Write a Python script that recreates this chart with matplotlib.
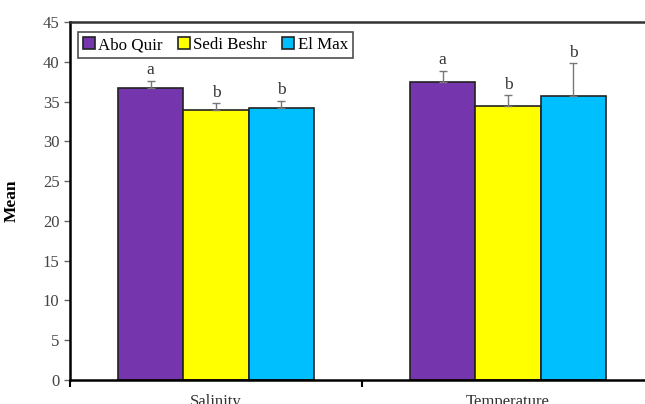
import numpy as np
import matplotlib.pyplot as plt

plt.rcParams['font.family'] = ['Liberation Serif', 'DejaVu Serif']

categories = ['Salinity', 'Temperature']
sites = ['Abo Quir', 'Sedi Beshr', 'El Max']
colors = ['#7535ad', '#ffff00', '#00bfff']
means = [[36.7, 37.4],   # Abo Quir
         [33.9, 34.5],   # Sedi Beshr
         [34.2, 35.7]]   # El Max
errs = [[0.9, 1.5],
        [0.9, 1.3],
        [0.9, 4.1]]
letters = [['a', 'a'],
           ['b', 'b'],
           ['b', 'b']]

fig = plt.figure(figsize=(6.45, 4.04), dpi=100)
ax = fig.add_axes([70/645, 24/404, 584/645, 358/404])

x = np.arange(len(categories))
w = 0.224
for i, site in enumerate(sites):
    pos = x + (i - 1) * w
    ax.bar(pos, means[i], w, color=colors[i], edgecolor='#222222',
           linewidth=1.2, label=site, zorder=2)
    ax.errorbar(pos, means[i], yerr=[np.zeros(2), errs[i]], fmt='none',
                ecolor='#777777', elinewidth=1, capsize=3, capthick=1, zorder=3)
    for p, m, e, t in zip(pos, means[i], errs[i], letters[i]):
        ax.text(p, m + e + 0.3, t, ha='center', va='bottom', fontsize=12.5,
                color='#333333')

ax.set_xlim(-0.5, 1.5)
ax.set_ylim(0, 45)
ax.set_yticks(range(0, 46, 5))
ax.set_xticks(x)
ax.set_xticklabels(categories, fontsize=12, color='#333333')
ax.set_xticks([-0.5, 0.5, 1.5], minor=True)
ax.tick_params(axis='x', which='major', length=0, pad=10)
ax.tick_params(axis='x', which='minor', length=5, width=1.5, direction='out')
ax.tick_params(axis='y', length=4, width=1, direction='out', labelsize=12,
               labelcolor='#444444', color='#666666')
ax.set_ylabel('Mean', fontsize=12.5, fontweight='bold', labelpad=17)

ax.spines['right'].set_visible(False)
ax.spines['left'].set_linewidth(1.8)
ax.spines['bottom'].set_linewidth(1.8)
ax.spines['top'].set_linewidth(1.8)
ax.spines['top'].set_color('#333333')

leg = ax.legend(loc='upper left', ncol=3, fontsize=12.2, frameon=True,
                fancybox=False, edgecolor='#222222', handlelength=0.7,
                handleheight=0.7, handletextpad=0.2, columnspacing=0.9,
                borderpad=0.3, borderaxespad=0,
                bbox_to_anchor=(8/584, 1 - 10/358))
leg.get_frame().set_linewidth(1.2)

fig.savefig('out.png', dpi=100)
